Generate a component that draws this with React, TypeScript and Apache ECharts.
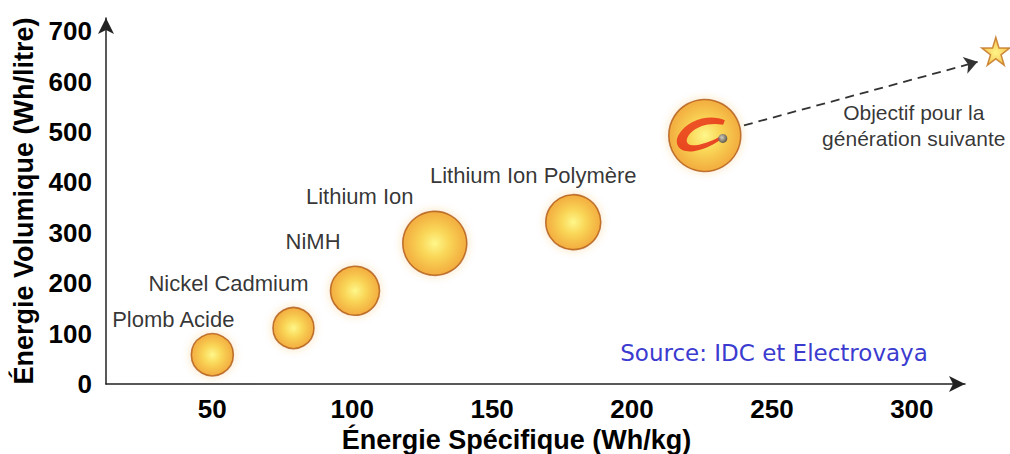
import React, { useEffect, useRef } from "react";
import * as echarts from "echarts";

// ---- data ----
const batteryNames = ["Plomb Acide", "Nickel Cadmium", "NiMH", "Lithium Ion", "Lithium Ion Polymère"];
const specificEnergy = [50, 79, 101, 129.5, 179];      // Wh/kg
const volumetricEnergy = [58, 111, 185, 279, 321];     // Wh/litre
const bubbleSizes = [42, 41, 49, 64, 55];
const labelOffsets: number[][] = [[-39, -35], [-65, -45], [-42, -49], [-75, -47], [-40, -47]];

const electrovayaPoint = [226, 493];
const electrovayaSize = 72;
const targetPoint = [330, 660];
const targetLabel = "Objectif pour la\ngénération suivante";
const arrowFrom = [240, 513];
const arrowTo = [323.5, 639];

const xTicks = [50, 100, 150, 200, 250, 300];
const yTicks = [0, 100, 200, 300, 400, 500, 600, 700];
const xRange = [12, 319];
const yRange = [0, 726];

const sourceText = "Source: IDC et Electrovaya";

const bubbleFill = {
  type: "radial", x: 0.5, y: 0.5, r: 0.5,
  colorStops: [
    { offset: 0, color: "#fffa7a" },
    { offset: 0.45, color: "#f9d13a" },
    { offset: 1, color: "#f09c1c" },
  ],
};
const bubbleItem = {
  color: bubbleFill as any,
  borderColor: "#b05a18",
  borderWidth: 1.6,
  shadowBlur: 8,
  shadowColor: "rgba(240,160,40,0.35)",
};

const logoPath =
  "path://M95,8 C70,-4 25,5 8,35 C-2,55 15,70 45,62 C65,57 80,48 88,42 L84,38 C70,46 50,53 35,53 C22,53 20,43 30,32 C45,16 70,12 92,16 Z";
const starPath =
  "path://M50,0 L61,35 L98,35 L68,57 L79,91 L50,70 L21,91 L32,57 L2,35 L39,35 Z";

const FONT = "'Liberation Sans', Arial, sans-serif";

export default function App() {
  const ref = useRef<HTMLDivElement>(null);
  useEffect(() => {
    if (!ref.current) return;
    const chart = echarts.init(ref.current, null, { renderer: "svg" });
    const bubbleData = batteryNames.map((n, i) => ({
      name: n,
      value: [specificEnergy[i], volumetricEnergy[i]],
      symbolSize: bubbleSizes[i],
      label: { offset: labelOffsets[i] },
    }));
    chart.setOption({
      animation: false,
      backgroundColor: "#fff",
      grid: { left: 106, right: 45, top: 18, bottom: 70, outerBoundsMode: "none" },
      xAxis: {
        type: "value",
        min: xRange[0],
        max: xRange[1],
        name: "Énergie Spécifique (Wh/kg)",
        nameLocation: "middle",
        nameGap: 38,
        nameTextStyle: { fontFamily: FONT, fontWeight: "bold", fontSize: 27, color: "#000", padding: [0, 38, 0, 0] },
        axisLine: { show: true, symbol: ["none", "arrow"], symbolSize: [12, 16], lineStyle: { color: "#222", width: 1.5 } },
        axisTick: { show: false },
        splitLine: { show: false },
        axisLabel: {
          customValues: xTicks,
          margin: 12,
          fontFamily: FONT, fontWeight: "bold", fontSize: 26, color: "#000",
        },
      },
      yAxis: {
        type: "value",
        min: yRange[0],
        max: yRange[1],
        name: "Énergie Volumique (Wh/litre)",
        nameLocation: "middle",
        nameGap: 66,
        nameTextStyle: { fontFamily: FONT, fontWeight: "bold", fontSize: 27, color: "#000" },
        axisLine: { show: true, symbol: ["none", "arrow"], symbolSize: [12, 16], lineStyle: { color: "#222", width: 1.5 } },
        axisTick: { show: false },
        splitLine: { show: false },
        axisLabel: {
          customValues: yTicks,
          margin: 14,
          fontFamily: FONT, fontWeight: "bold", fontSize: 26, color: "#000",
        },
      },
      series: [
        {
          type: "scatter",
          clip: false,
          data: bubbleData,
          itemStyle: bubbleItem,
          label: {
            show: true,
            position: "inside",
            formatter: "{b}",
            fontFamily: FONT, fontSize: 22, color: "#000",
          },
          z: 3,
        },
        {
          type: "scatter",
          clip: false,
          data: [{ name: "Electrovaya", value: electrovayaPoint }],
          symbolSize: electrovayaSize,
          itemStyle: bubbleItem,
          z: 3,
        },
        {
          type: "lines",
          coordinateSystem: "cartesian2d",
          clip: false,
          silent: true,
          symbol: ["none", "arrow"],
          symbolSize: 13,
          lineStyle: { type: [9, 6], color: "#333", width: 1.8, opacity: 1 },
          data: [{ coords: [arrowFrom, arrowTo] }],
          z: 2,
        },
        {
          type: "scatter",
          clip: false,
          data: [{ name: "logo", value: electrovayaPoint }],
          symbol: logoPath,
          symbolSize: [48, 34],
          symbolOffset: [-4, -1],
          itemStyle: {
            color: {
              type: "linear", x: 0, y: 0, x2: 1, y2: 1,
              colorStops: [{ offset: 0, color: "#ec3a18" }, { offset: 1, color: "#e01810" }],
            } as any,
          },
          z: 4,
        },
        {
          type: "scatter",
          clip: false,
          data: [{ name: "dot", value: electrovayaPoint }],
          symbolSize: 9,
          symbolOffset: [18, 3],
          itemStyle: {
            color: {
              type: "radial", x: 0.4, y: 0.4, r: 0.6,
              colorStops: [{ offset: 0, color: "#c8ccd8" }, { offset: 1, color: "#3a3e4a" }],
            } as any,
          },
          z: 5,
        },
        {
          type: "scatter",
          clip: false,
          data: [{ name: targetLabel, value: targetPoint }],
          symbol: starPath,
          symbolSize: 28,
          itemStyle: {
            color: {
              type: "radial", x: 0.5, y: 0.55, r: 0.5,
              colorStops: [{ offset: 0, color: "#fff36a" }, { offset: 1, color: "#f3b12a" }],
            } as any,
            borderColor: "#c0701c",
            borderWidth: 1.5,
          },
          label: {
            show: true,
            position: "inside",
            formatter: "{b}",
            offset: [-82, 74],
            align: "center",
            lineHeight: 26,
            fontFamily: FONT, fontSize: 21, color: "#000",
          },
          z: 4,
        },
      ],
      graphic: [
        {
          type: "text",
          x: 774,
          y: 353,
          style: {
            text: sourceText,
            align: "center",
            verticalAlign: "middle",
            fontFamily: "'DejaVu Sans', Verdana, sans-serif",
            fontSize: 23,
            fill: "#3b3bd0",
          },
        },
      ],
    });
    return () => chart.dispose();
  }, []);
  return <div ref={ref} style={{ width: 1010, height: 454, position: "absolute", left: 0, top: 0 }} />;
}
